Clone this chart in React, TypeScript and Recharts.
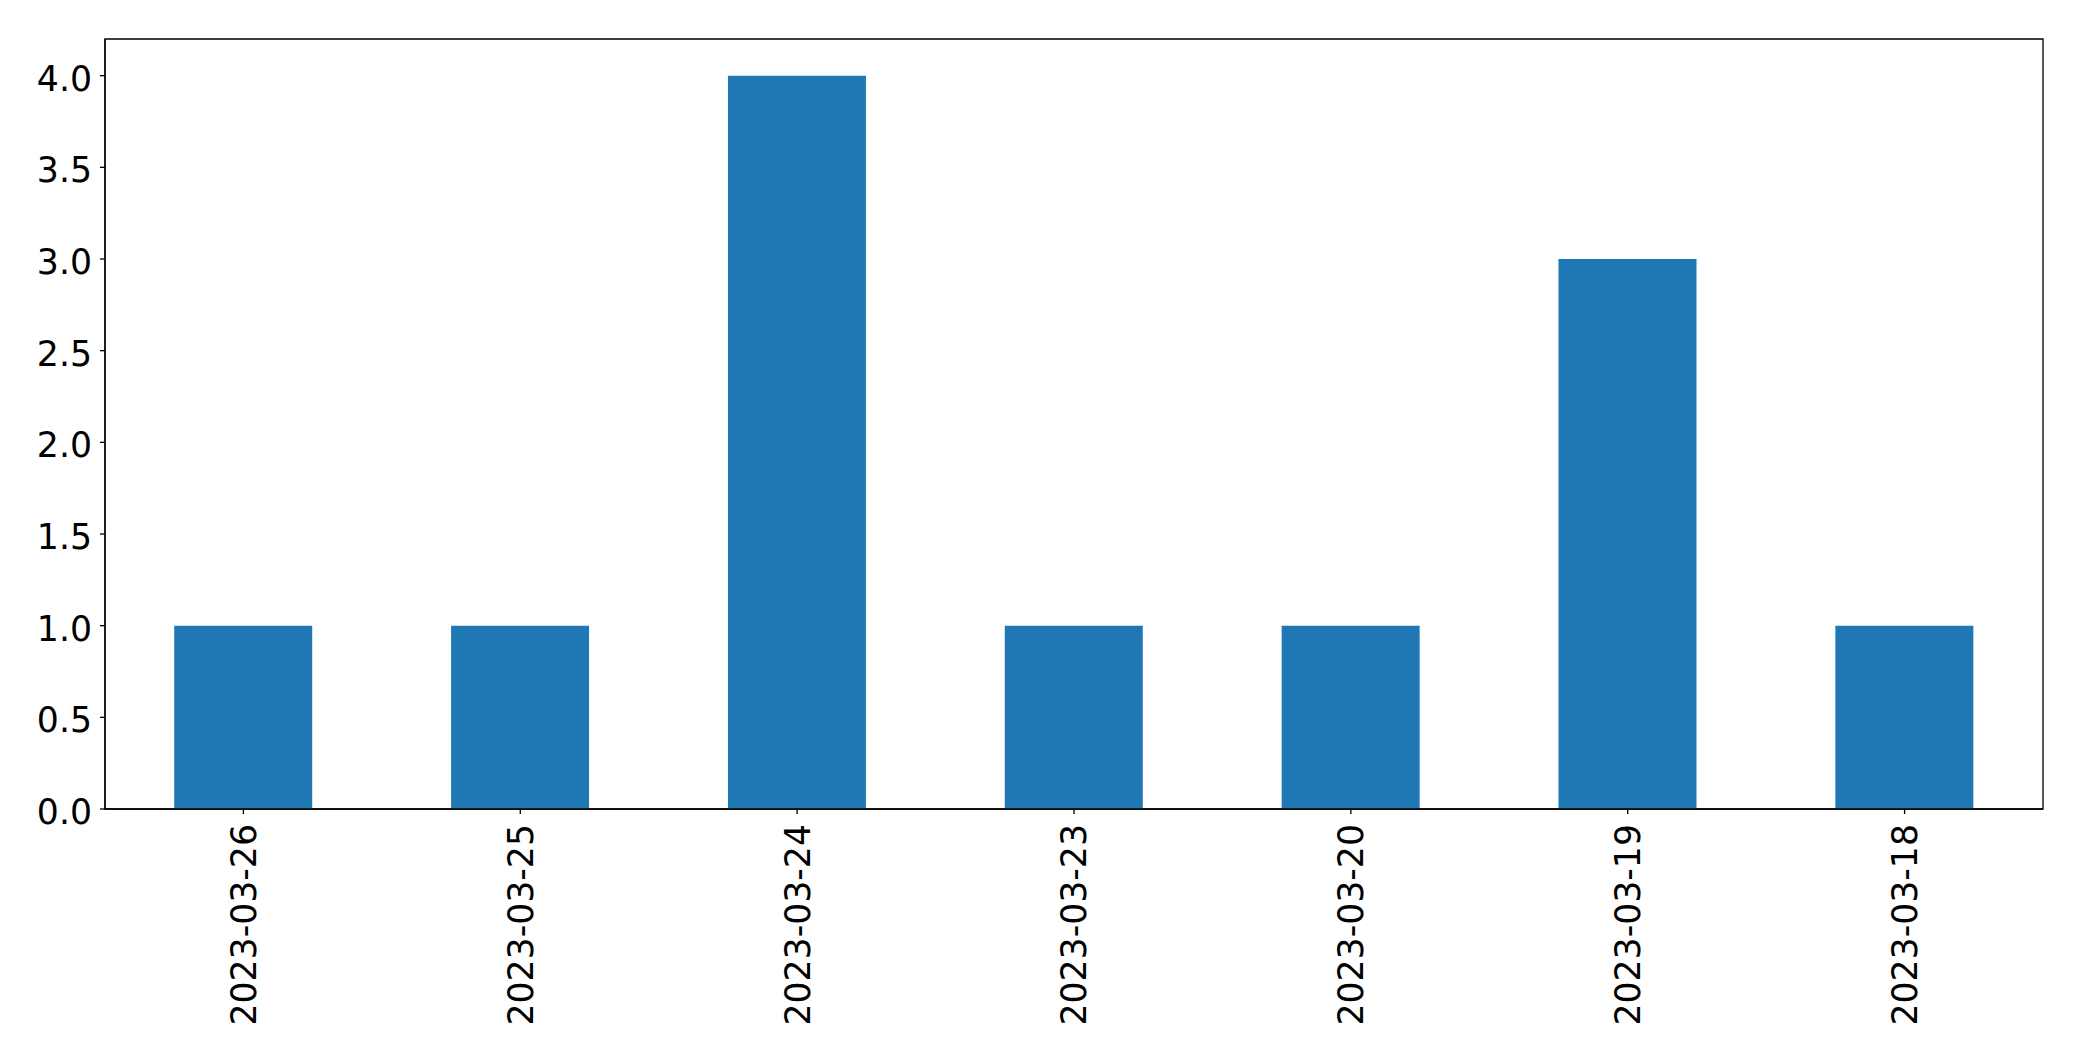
import { BarChart, Bar, XAxis, YAxis, ReferenceArea } from "recharts";

const dates = [
  "2023-03-26",
  "2023-03-25",
  "2023-03-24",
  "2023-03-23",
  "2023-03-20",
  "2023-03-19",
  "2023-03-18",
];
const counts = [1, 1, 4, 1, 1, 3, 1];
const yTicks = [0, 0.5, 1, 1.5, 2, 2.5, 3, 3.5, 4];

const data = dates.map((d, i) => ({ date: d, count: counts[i] }));

const FONT = "'DejaVu Sans', sans-serif";

function DateTick(props: any) {
  const { x, y, payload } = props;
  return (
    <text
      x={x}
      y={y}
      transform={`rotate(-90, ${x}, ${y})`}
      textAnchor="end"
      dy="0.36em"
      fontSize={34.7}
      fontFamily={FONT}
      fill="#000"
    >
      {payload.value}
    </text>
  );
}

function ValueTick(props: any) {
  const { x, y, payload } = props;
  return (
    <text
      x={x}
      y={y}
      textAnchor="end"
      dy="0.43em"
      fontSize={34.7}
      fontFamily={FONT}
      fill="#000"
    >
      {Number(payload.value).toFixed(1)}
    </text>
  );
}

export default function App() {
  return (
    <div style={{ position: "fixed", left: 0, top: 0, background: "#fff" }}>
      <BarChart
        width={2082}
        height={1061}
        data={data}
        margin={{ top: 39, right: 39, left: 0, bottom: 0 }}
        barCategoryGap="25%"
      >
        <XAxis
          dataKey="date"
          height={252}
          interval={0}
          tickSize={5}
          tickMargin={10}
          tick={<DateTick />}
          axisLine={{ stroke: "#000", strokeWidth: 1.3 }}
          tickLine={{ stroke: "#000", strokeWidth: 1.3 }}
        />
        <YAxis
          width={105}
          domain={[0, 4.2]}
          ticks={yTicks}
          tickSize={5}
          tickMargin={8}
          tick={<ValueTick />}
          axisLine={{ stroke: "#000", strokeWidth: 1.3 }}
          tickLine={{ stroke: "#000", strokeWidth: 1.3 }}
        />
        <Bar dataKey="count" fill="#1f77b4" isAnimationActive={false} />
        <ReferenceArea
          x1={dates[0]}
          x2={dates[dates.length - 1]}
          y1={0}
          y2={4.2}
          fill="none"
          stroke="#000"
          strokeWidth={1.3}
          ifOverflow="visible"
        />
      </BarChart>
    </div>
  );
}
